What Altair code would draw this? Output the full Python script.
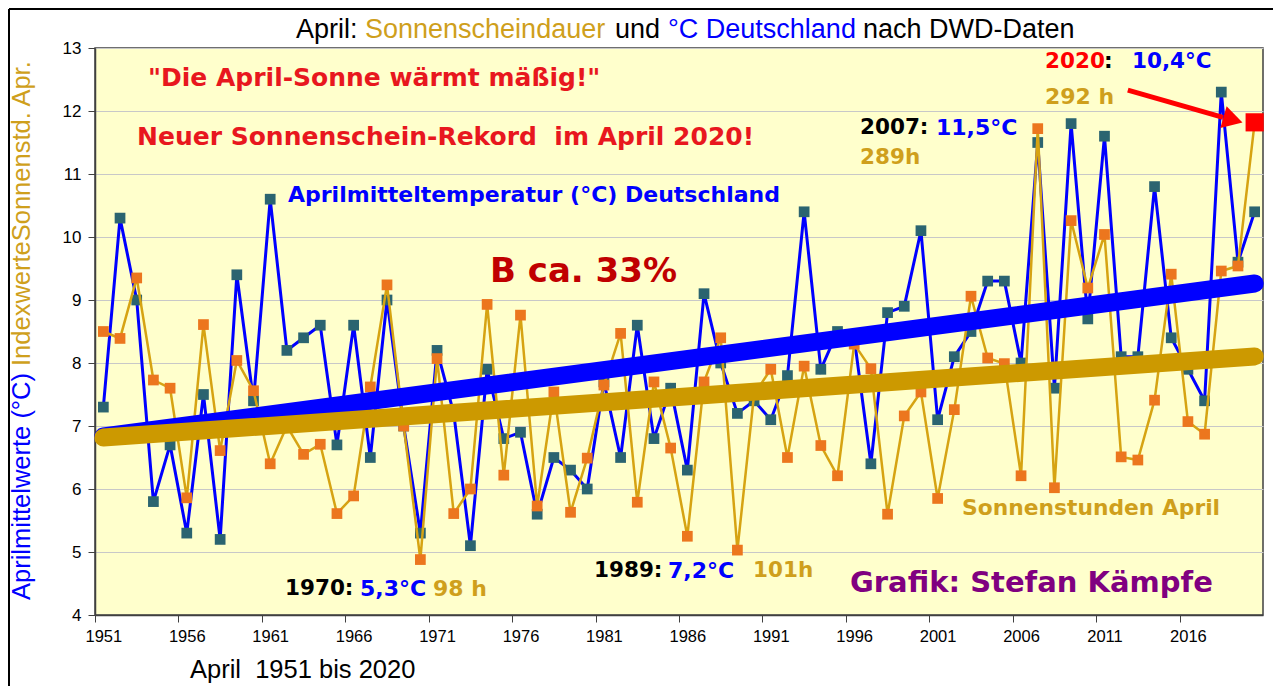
import altair as alt
import pandas as pd

# ---------------- data ----------------
years = list(range(1951, 2021))
temp = [7.3, 10.3, 9.0, 5.8, 6.7, 5.3, 7.5, 5.2, 9.4, 7.4,
        10.6, 8.2, 8.4, 8.6, 6.7, 8.6, 6.5, 9.0, 7.0, 5.3,
        8.2, 7.2, 5.1, 7.9, 6.8, 6.9, 5.6, 6.5, 6.3, 6.0,
        7.7, 6.5, 8.6, 6.8, 7.6, 6.3, 9.1, 8.0, 7.2, 7.4,
        7.1, 7.8, 10.4, 7.9, 8.5, 8.4, 6.4, 8.8, 8.9, 10.1,
        7.1, 8.1, 8.5, 9.3, 9.3, 8.0, 11.5, 7.6, 11.8, 8.7,
        11.6, 8.1, 8.1, 10.8, 8.4, 7.9, 7.4, 12.3, 9.6, 10.4]
sun = [8.50, 8.39, 9.35, 7.73, 7.60, 5.86, 8.61, 6.61, 8.04, 7.56,
       6.40, 7.00, 6.55, 6.71, 5.61, 5.89, 7.62, 9.24, 7.00, 4.88,
       8.07, 5.61, 6.00, 8.93, 6.22, 8.76, 5.73, 7.54, 5.63, 6.49,
       7.65, 8.47, 5.79, 7.70, 6.65, 5.25, 7.70, 8.40, 5.03, 7.50,
       7.90, 6.50, 7.95, 6.69, 6.21, 8.30, 7.91, 5.60, 7.16, 7.54,
       5.85, 7.26, 9.06, 8.08, 7.99, 6.21, 11.72, 6.02, 10.26, 9.19,
       10.04, 6.51, 6.46, 7.41, 9.41, 7.07, 6.87, 9.46, 9.54, 11.82]
x_tick_years = list(range(1951, 2017, 5))
y_ticks = list(range(4, 14))
arrow_years = [2012.4, 2018.1]
arrow_vals = [12.33, 11.90]
arrow_head_year = [2018.7]
arrow_head_val = [11.86]

df = pd.DataFrame({"year": years, "temp": temp, "sun": sun})
df_last = df[df["year"] == 2020]
df_rest = df[df["year"] < 2020]

# ---------------- style ----------------
W, H = 1168, 567
OX, OY = 95, 48          # page position of the plot origin
SANS = "Liberation Sans, Arial, sans-serif"
BOLD = "DejaVu Sans, Verdana, sans-serif"
BLUE = "#0000FF"
GOLD = "#D6A312"
GOLD_TXT = "#CF9F1C"
GOLD_TREND = "#CC9900"
ORANGE = "#EC761E"
TEAL = "#2B6470"
RED = "#E8171E"

xscale = alt.Scale(domain=[1950.5, 2020.5], nice=False, zero=False)
yscale = alt.Scale(domain=[4, 13], nice=False, zero=False)
step = W / 70.0
xaxis = alt.Axis(values=x_tick_years, format="d", title=None, grid=False,
                 tickOffset=-step / 2, labelOffset=step / 2,
                 labelFont=SANS, labelFontSize=16.5, labelColor="black",
                 tickColor="#404040", tickSize=7, domainColor="#404040",
                 domainWidth=1.5, labelPadding=6, labelFlush=False)
yaxis = alt.Axis(values=y_ticks, format="d", title=None, grid=True,
                 gridColor="#C8C8C8", gridWidth=1, labelFont=SANS,
                 labelFontSize=17, labelColor="black", tickColor="#404040",
                 tickSize=7, domainColor="#404040", domainWidth=1.5,
                 labelPadding=7)

X = alt.X("year:Q", scale=xscale, axis=xaxis)
YT = alt.Y("temp:Q", scale=yscale, axis=yaxis)
YS = alt.Y("sun:Q", scale=yscale, axis=yaxis)

base = alt.Chart(df)

temp_line = base.mark_line(color=BLUE, strokeWidth=3).encode(x=X, y=YT)
temp_pts = base.mark_square(color=TEAL, size=115, opacity=1).encode(x=X, y=YT)
sun_line = base.mark_line(color=GOLD, strokeWidth=2.5).encode(x=X, y=YS)
sun_pts = alt.Chart(df_rest).mark_square(color=ORANGE, size=115, opacity=1).encode(x=X, y=YS)
sun_last = alt.Chart(df_last).mark_square(color="#FF0000", size=330, opacity=1).encode(x=X, y=YS)

trend_t = base.transform_regression("year", "temp").mark_line(
    color=BLUE, strokeWidth=18, strokeCap="round").encode(x=X, y=YT)
trend_s = base.transform_regression("year", "sun").mark_line(
    color=GOLD_TREND, strokeWidth=18, strokeCap="round").encode(x=X, y=YS)

arrow_df = pd.DataFrame({"x": [arrow_years[0]], "x2": [arrow_years[1]],
                         "y": [arrow_vals[0]], "y2": [arrow_vals[1]]})
arrow = alt.Chart(arrow_df).mark_rule(color="#FF0000", strokeWidth=5).encode(
    x=alt.X("x:Q", scale=xscale), x2="x2:Q",
    y=alt.Y("y:Q", scale=yscale), y2="y2:Q")
head_df = pd.DataFrame({"x": arrow_head_year, "y": arrow_head_val})
head = alt.Chart(head_df).mark_point(shape="triangle-right", filled=True, size=520,
                                     angle=16, color="#FF0000", opacity=1).encode(
    x=alt.X("x:Q", scale=xscale), y=alt.Y("y:Q", scale=yscale))


def label(text, px, py, color, size, font=BOLD, weight="bold", angle=0):
    return alt.Chart(pd.DataFrame({"t": [text]})).mark_text(
        align="left", baseline="middle", font=font, fontSize=size,
        fontWeight=weight, color=color, angle=angle).encode(
        x=alt.value(px - OX), y=alt.value(py - OY), text="t:N")


texts = [
    # title
    label("April:", 296, 30, "black", 27, SANS, "normal"),
    label("Sonnenscheindauer", 365, 30, GOLD_TXT, 27, SANS, "normal"),
    label("und", 615, 30, "black", 27, SANS, "normal"),
    label("°C Deutschland", 668, 30, BLUE, 27, SANS, "normal"),
    label("nach DWD-Daten", 863, 30, "black", 27, SANS, "normal"),
    # y title
    label("Aprilmittelwerte (°C)", 22, 600, BLUE, 25.5, SANS, "normal", 270),
    label("IndexwerteSonnenstd. Apr.", 22, 366, GOLD_TXT, 25.5, SANS, "normal", 270),
    # x title
    label("April\u00a0 1951 bis 2020", 190, 670, "black", 25.5, SANS, "normal"),
    # annotations
    label("\"Die April-Sonne wärmt mäßig!\"", 148, 78, RED, 25),
    label("Neuer Sonnenschein-Rekord\u00a0 im April 2020!", 137, 137, RED, 25),
    label("Aprilmitteltemperatur (°C) Deutschland", 288, 195, BLUE, 22),
    label("B ca. 33%", 490, 272, "#C00000", 34),
    label("2007:", 860, 128, "black", 21.5),
    label("11,5°C", 936, 128, BLUE, 22),
    label("289h", 860, 158, GOLD_TXT, 21.5),
    label("2020", 1045, 62, "#FF0000", 21.5),
    label(":", 1104, 62, "black", 21.5),
    label("10,4°C", 1132, 62, BLUE, 21.5),
    label("292 h", 1045, 97, GOLD_TXT, 22),
    label("Sonnenstunden April", 962, 508, GOLD_TXT, 21.8),
    label("1989:", 594, 571, "black", 21.5),
    label("7,2°C", 668, 571, BLUE, 22),
    label("101h", 753, 571, GOLD_TXT, 21.5),
    label("1970:", 285, 589, "black", 21.5),
    label("5,3°C", 360, 589, BLUE, 22),
    label("98 h", 433, 589, GOLD_TXT, 22),
    label("Grafik: Stefan Kämpfe", 850, 583, "#800080", 29),
]

frame_df = pd.DataFrame({"a": [0]})
frame_top = alt.Chart(frame_df).mark_rule(color="black", strokeWidth=2).encode(
    x=alt.value(-OX + 9), x2=alt.value(W + 20), y=alt.value(-OY + 9))
frame_left = alt.Chart(frame_df).mark_rule(color="black", strokeWidth=2).encode(
    x=alt.value(-OX + 9), y=alt.value(-OY + 9), y2=alt.value(H + 80))

chart = alt.layer(
    temp_line, temp_pts, sun_line, sun_pts, trend_t, trend_s, sun_last,
    arrow, head, *texts, frame_top, frame_left
).properties(
    width=W, height=H,
    autosize=alt.AutoSizeParams(type="none"),
    padding={"left": OX - 8, "top": OY - 8, "right": 10, "bottom": 71},
    background="white",
).configure_view(fill="#FFFFCC", stroke="#404040", strokeWidth=1.5)

chart.save("out.html", embed_options={"renderer": "svg", "actions": False})
